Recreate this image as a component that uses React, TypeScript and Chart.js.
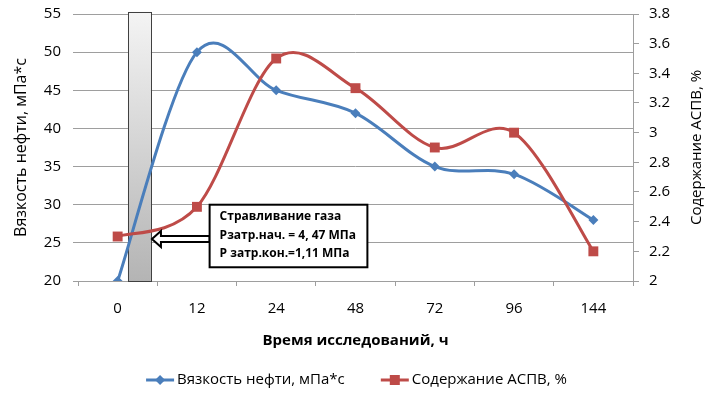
import React, { useEffect, useRef } from 'react';
import { Chart, registerables } from 'chart.js';

Chart.register(...registerables);

// ---- data ----
const categories = ['0', '12', '24', '48', '72', '96', '144'];
const viscosity = [20, 50, 45, 42, 35, 34, 28];
const aspv = [2.3, 2.5, 3.5, 3.3, 2.9, 3.0, 2.2];
const leftAxisRange = [20, 55, 5];
const rightAxisRange = [2, 3.8, 0.2];
const gasReleaseSpan = [0.13, 0.42]; // category positions
const gasReleaseLevels = [20, 55.3]; // left axis values
const noteLines = ['Стравливание газа', 'Pзатр.нач. = 4, 47 МПа', 'Р затр.кон.=1,11 МПа'];
const seriesNames = ['Вязкость нефти, мПа*с', 'Содержание АСПВ, %'];
const axisTitles = ['Время исследований, ч', 'Вязкость нефти, мПа*с', 'Содержание АСПВ, %'];

const FONT = "'Open Sans', 'Noto Sans', sans-serif";
const BLUE = '#4A7EBB';
const RED = '#BE4B48';
const GRID = '#9e9e9e';

// Excel-like smoothing: uniform Catmull-Rom (1/6 of neighbour chord)
const smoothPlugin = {
  id: 'excelSmooth',
  beforeDatasetsDraw(chart: any) {
    chart.data.datasets.forEach((_d: any, i: number) => {
      const meta = chart.getDatasetMeta(i);
      const line = meta.dataset;
      if (!line) return;
      line.updateControlPoints(chart.chartArea, 'x');
      const pts = meta.data;
      const n = pts.length;
      for (let k = 0; k < n; k++) {
        const p = pts[k];
        const prev = pts[Math.max(0, k - 1)];
        const next = pts[Math.min(n - 1, k + 1)];
        const dx = (next.x - prev.x) / 6;
        const dy = (next.y - prev.y) / 6;
        p.cp1x = p.x - dx;
        p.cp1y = p.y - dy;
        p.cp2x = p.x + dx;
        p.cp2y = p.y + dy;
      }
      line._path = undefined;
    });
  },
};

const gasBarPlugin = {
  id: 'gasBar',
  beforeDatasetsDraw(chart: any) {
    const { ctx } = chart;
    const xs = chart.scales.x;
    const ys = chart.scales.y;
    const x0 = xs.getPixelForValue(gasReleaseSpan[0]);
    const x1 = xs.getPixelForValue(gasReleaseSpan[1]);
    const yT = ys.getPixelForValue(gasReleaseLevels[1]);
    const yB = ys.getPixelForValue(gasReleaseLevels[0]);
    ctx.save();
    const g = ctx.createLinearGradient(0, yT, 0, yB);
    g.addColorStop(0, '#f4f4f4');
    g.addColorStop(1, '#b4b4b4');
    ctx.fillStyle = g;
    ctx.fillRect(x0, yT, x1 - x0, yB - yT);
    ctx.strokeStyle = '#404040';
    ctx.lineWidth = 1;
    ctx.strokeRect(Math.round(x0) + 0.5, Math.round(yT) + 0.5, Math.round(x1 - x0), Math.round(yB - yT));
    ctx.restore();
  },
};

const notePlugin = {
  id: 'note',
  afterDatasetsDraw(chart: any) {
    const { ctx } = chart;
    const xs = chart.scales.x;
    const ys = chart.scales.y;
    const bx0 = xs.getPixelForValue(1.16);
    const bx1 = xs.getPixelForValue(3.15);
    const by0 = ys.getPixelForValue(30.0);
    const by1 = ys.getPixelForValue(21.8);
    ctx.save();
    // arrow
    const tipX = xs.getPixelForValue(gasReleaseSpan[1]) + 1;
    const ay = ys.getPixelForValue(25.5);
    const baseX = tipX + 9;
    ctx.beginPath();
    ctx.moveTo(tipX, ay);
    ctx.lineTo(baseX, ay - 8);
    ctx.lineTo(baseX, ay - 3);
    ctx.lineTo(bx0, ay - 3);
    ctx.lineTo(bx0, ay + 3);
    ctx.lineTo(baseX, ay + 3);
    ctx.lineTo(baseX, ay + 8);
    ctx.closePath();
    ctx.fillStyle = '#ffffff';
    ctx.fill();
    ctx.strokeStyle = '#000000';
    ctx.lineWidth = 2;
    ctx.stroke();
    // box
    ctx.fillStyle = '#ffffff';
    ctx.fillRect(bx0, by0, bx1 - bx0, by1 - by0);
    ctx.strokeRect(bx0, by0, bx1 - bx0, by1 - by0);
    ctx.fillStyle = '#000000';
    ctx.font = `bold 12px ${FONT}`;
    ctx.textBaseline = 'middle';
    ctx.textAlign = 'left';
    noteLines.forEach((t, i) => ctx.fillText(t, bx0 + 10, by0 + 12 + i * 18.5));
    ctx.restore();
  },
};

const extrasPlugin = {
  id: 'extras',
  afterDraw(chart: any) {
    const { ctx } = chart;
    const area = chart.chartArea;
    ctx.save();
    // right axis title
    ctx.fillStyle = '#000';
    ctx.font = `15px ${FONT}`;
    ctx.textAlign = 'center';
    ctx.textBaseline = 'middle';
    ctx.translate(697, (area.top + area.bottom) / 2);
    ctx.rotate(-Math.PI / 2);
    ctx.fillText(axisTitles[2], 0, 0);
    ctx.restore();

    // legend
    ctx.save();
    ctx.font = `15px ${FONT}`;
    const lineW = 28;
    const gap = 3;
    const itemGap = 36;
    const ds = chart.data.datasets;
    const widths = ds.map((d: any) => lineW + gap + ctx.measureText(d.label).width);
    const total = widths.reduce((a: number, b: number) => a + b, 0) + itemGap * (ds.length - 1);
    let x = chart.width / 2 - total / 2 - 1;
    const y = 380;
    ds.forEach((d: any, i: number) => {
      ctx.strokeStyle = d.borderColor;
      ctx.lineWidth = 3;
      ctx.beginPath();
      ctx.moveTo(x, y);
      ctx.lineTo(x + lineW, y);
      ctx.stroke();
      ctx.fillStyle = d.borderColor;
      const cx = x + lineW / 2;
      if (d.pointStyle === 'rect') {
        ctx.fillRect(cx - 5, y - 5, 10, 10);
      } else {
        ctx.beginPath();
        ctx.moveTo(cx, y - 5);
        ctx.lineTo(cx + 5, y);
        ctx.lineTo(cx, y + 5);
        ctx.lineTo(cx - 5, y);
        ctx.closePath();
        ctx.fill();
      }
      ctx.fillStyle = '#000';
      ctx.textAlign = 'left';
      ctx.textBaseline = 'middle';
      ctx.fillText(d.label, x + lineW + gap, y);
      x += widths[i] + itemGap;
    });
    ctx.restore();
  },
};

export default function App() {
  const ref = useRef<HTMLCanvasElement | null>(null);
  useEffect(() => {
    document.body.style.margin = '0';
    if (!ref.current) return;
    const tickFont = { family: FONT, size: 15 };
    const chart = new Chart(ref.current, {
      type: 'line',
      data: {
        labels: categories,
        datasets: [
          {
            label: seriesNames[0],
            data: viscosity,
            yAxisID: 'y',
            borderColor: BLUE,
            backgroundColor: BLUE,
            borderWidth: 3,
            tension: 0.4,
            pointStyle: 'rectRot',
            pointRadius: 5,
            pointBorderWidth: 0,
            order: 1,
          },
          {
            label: seriesNames[1],
            data: aspv,
            yAxisID: 'y1',
            borderColor: RED,
            backgroundColor: RED,
            borderWidth: 3,
            tension: 0.4,
            pointStyle: 'rect',
            pointRadius: 7,
            pointBorderWidth: 0,
            order: 0,
          },
        ],
      },
      options: {
        animation: false,
        responsive: false,
        devicePixelRatio: 1,
        layout: { padding: { top: 14, bottom: 44, left: 0, right: 0 } },
        plugins: { legend: { display: false }, tooltip: { enabled: false } },
        scales: {
          x: {
            type: 'category',
            offset: true,
            grid: { offset: true, drawOnChartArea: false, tickLength: 5, color: GRID },
            border: { color: GRID },
            ticks: { padding: 14, font: tickFont, color: '#000' },
            title: {
              display: true,
              text: axisTitles[0],
              font: { family: FONT, size: 15, weight: 'bold' },
              color: '#000',
              padding: { top: 0, bottom: 0 },
            },
            afterFit: (s: any) => { s.height = 69; s.paddingLeft = 0; s.paddingRight = 0; },
          },
          y: {
            position: 'left',
            min: leftAxisRange[0],
            max: leftAxisRange[1],
            ticks: { stepSize: leftAxisRange[2], padding: 12, font: tickFont, color: '#000' },
            grid: { color: GRID, tickLength: 5 },
            border: { display: false },
            title: {
              display: true,
              text: axisTitles[1],
              font: { family: FONT, size: 16 },
              color: '#000',
              padding: { top: 12, bottom: 0 },
            },
            afterFit: (s: any) => { s.width = 78; s.paddingTop = 0; s.paddingBottom = 0; },
          },
          y1: {
            position: 'right',
            min: rightAxisRange[0],
            max: rightAxisRange[1],
            ticks: {
              stepSize: rightAxisRange[2],
              padding: 10,
              font: tickFont,
              color: '#000',
              callback: (v: any) => String(Math.round(Number(v) * 10) / 10),
            },
            grid: { drawOnChartArea: false, tickLength: 6, color: GRID },
            border: { display: true, color: GRID },
            afterFit: (s: any) => { s.width = 82; s.paddingTop = 0; s.paddingBottom = 0; },
          },
        },
      },
      plugins: [smoothPlugin, gasBarPlugin, notePlugin, extrasPlugin],
    } as any);
    return () => chart.destroy();
  }, []);
  return (
    <div style={{ width: 715, height: 394 }}>
      <canvas ref={ref} width={715} height={394} />
    </div>
  );
}
